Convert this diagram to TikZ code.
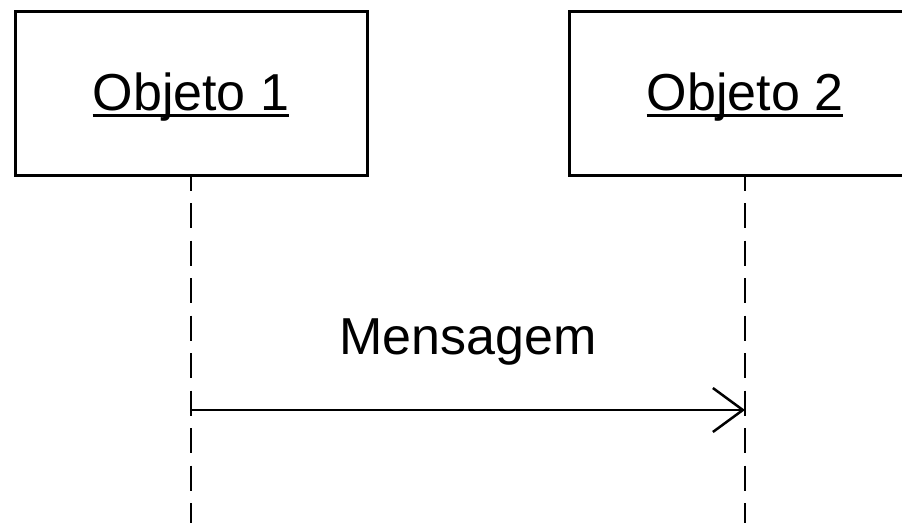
\documentclass[tikz,border=0pt]{standalone}
\usepackage{fontspec}
\setmainfont{Liberation Sans}
\usetikzlibrary{arrows.meta}

\tikzset{
  objbox/.style={draw, line width=3pt, minimum width=352pt, minimum height=164pt, inner sep=0pt},
  objname/.style={inner sep=0pt, anchor=base, font=\fontsize{52}{62}\selectfont},
  lifeline/.style={line width=2.5pt, dash pattern=on 25pt off 12.5pt, dash phase=10.8pt},
  msg/.style={line width=2.5pt, -{Straight Barb[length=30pt, width=44pt, line width=2.5pt]}}
}

\begin{document}
\begin{tikzpicture}[x=1pt, y=-1pt]
    \useasboundingbox (0,0) rectangle (902,523);

    \node[objbox] (obj1) at (191,93) {};
    \node[objbox] (obj2) at (745,93) {};
    \node[objname] (name1) at (191,110) {Objeto 1};
    \node[objname] (name2) at (745,110) {Objeto 2};
    \draw[line width=3pt] ([yshift=-5pt]name1.base west) -- ([yshift=-5pt]name1.base east);
    \draw[line width=3pt] ([yshift=-5pt]name2.base west) -- ([yshift=-5pt]name2.base east);

    \coordinate (end1) at (191,523);
    \coordinate (end2) at (745,523);
    \draw[lifeline] (obj1.south) -- (end1);
    \draw[lifeline] (obj2.south) -- (end2);

    \coordinate (from) at (191,410);
    \coordinate (to) at (745,410);
    \draw[msg] (from) -- (to);
    \node[objname] (msgname) at (468,354) {Mensagem};
\end{tikzpicture}
\end{document}
